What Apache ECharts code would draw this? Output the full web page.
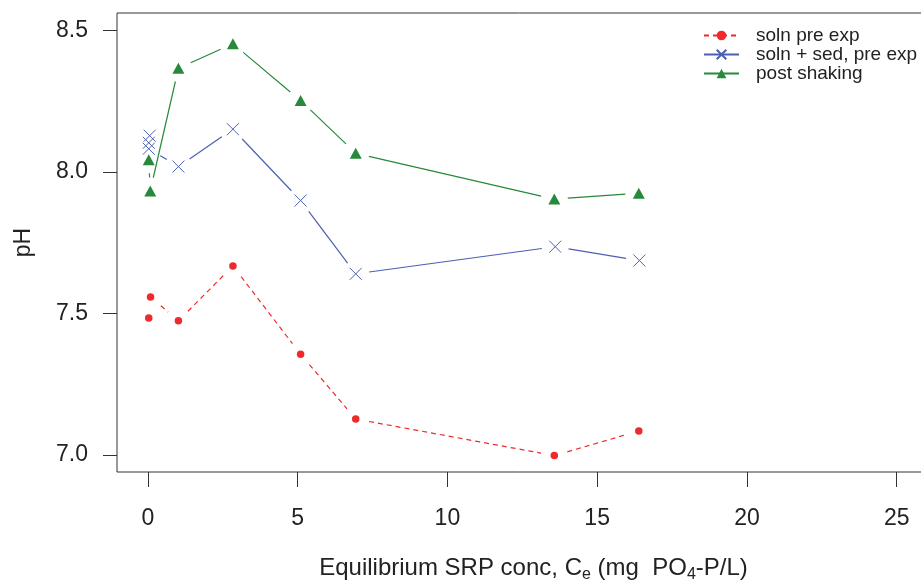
<!DOCTYPE html>
<html>
<head>
<meta charset="utf-8">
<script src="https://cdn.jsdelivr.net/npm/echarts@6/dist/echarts.min.js"></script>
<style>
  html, body { margin: 0; padding: 0; background: #fff; }
  #chart { width: 921px; height: 581px; }
</style>
</head>
<body>
<div id="chart"></div>
<script>
// values
var xPre = [0.03, 0.09, 1.02, 2.84, 5.10, 6.94, 13.57, 16.39];
var phPre = [7.484, 7.558, 7.474, 7.668, 7.356, 7.127, 6.998, 7.085];

var xSed = [0.06, 0.03, 0.03, 1.02, 2.84, 5.10, 6.94, 13.60, 16.41];
var phSed = [8.128, 8.103, 8.082, 8.019, 8.151, 7.899, 7.640, 7.736, 7.687];

var xShake = [0.03, 0.08, 1.02, 2.84, 5.10, 6.94, 13.57, 16.39];
var phShake = [8.043, 7.933, 8.366, 8.453, 8.252, 8.066, 7.904, 7.925];

var xTicks = [0, 5, 10, 15, 20, 25];
var yTicks = [7.0, 7.5, 8.0, 8.5];

var RED = '#ee2a2a', BLUE = '#4c5fb2', GREEN = '#27893b';
var FONT = 'Liberation Sans, Arial, sans-serif';
var GAP = 13.5; // R type="b" leaves a gap round each point

function pts(xs, ys) {
    var out = [];
    for (var i = 0; i < xs.length; i++) out.push([xs[i], ys[i]]);
    return out;
}
function pairs(xs, ys) {
    var out = [];
    for (var i = 0; i < xs.length - 1; i++) out.push([xs[i], ys[i], xs[i + 1], ys[i + 1]]);
    return out;
}
// draw each segment shortened at both ends
function gapLine(color, dash) {
    return function (params, api) {
        var p1 = api.coord([api.value(0), api.value(1)]);
        var p2 = api.coord([api.value(2), api.value(3)]);
        var dx = p2[0] - p1[0], dy = p2[1] - p1[1];
        var len = Math.sqrt(dx * dx + dy * dy);
        if (len <= 2 * GAP) return;
        var ux = dx / len, uy = dy / len;
        return {
            type: 'line',
            shape: { x1: p1[0] + ux * GAP, y1: p1[1] + uy * GAP, x2: p2[0] - ux * GAP, y2: p2[1] - uy * GAP },
            style: { stroke: color, lineWidth: 1.2, lineDash: dash }
        };
    };
}

var crossPath = 'path://M0,0L12,12M12,0L0,12';

var chart = echarts.init(document.getElementById('chart'));
var option = {
    animation: false,
    textStyle: { fontFamily: FONT },
    grid: {
        left: 117, top: 13, right: -29, bottom: 109,
        outerBoundsMode: 'none',
        show: true, borderColor: '#333', borderWidth: 1, backgroundColor: 'transparent'
    },
    legend: {
        orient: 'vertical',
        left: 703, top: 26, padding: 0,
        itemWidth: 35, itemHeight: 12, itemGap: 0,
        textStyle: { fontSize: 19, color: '#222', lineHeight: 17.5, padding: [0, 0, 0, 12], fontFamily: FONT },
        data: ['soln pre exp', 'soln + sed, pre exp', 'post shaking']
    },
    xAxis: {
        type: 'value', min: -1.03, max: 26.78,
        splitLine: { show: false },
        axisLine: { show: false, onZero: false },
        axisTick: { show: true, length: 15, customValues: xTicks, lineStyle: { color: '#333', width: 1 } },
        axisLabel: { customValues: xTicks, fontSize: 23, color: '#222', margin: 35 },
        name: 'Equilibrium SRP conc, C{sub|e} (mg  PO{sub|4}-P/L)',
        nameLocation: 'middle', nameGap: 83,
        nameTextStyle: {
            fontSize: 24, color: '#222', lineHeight: 27,
            rich: { sub: { fontSize: 16, verticalAlign: 'bottom', lineHeight: 27, padding: [0, 0, -1, 0] } }
        }
    },
    yAxis: {
        type: 'value', min: 6.94, max: 8.5615,
        splitLine: { show: false },
        axisLine: { show: false, onZero: false },
        axisTick: { show: true, length: 14, customValues: yTicks, lineStyle: { color: '#333', width: 1 } },
        axisLabel: {
            customValues: yTicks, fontSize: 23, color: '#222', margin: 29,
            formatter: function (v) { return v.toFixed(1); }
        },
        name: 'pH', nameLocation: 'middle', nameGap: 82,
        nameTextStyle: { fontSize: 23, color: '#222' }
    },
    series: [
        // legend carriers
        { type: 'line', name: 'soln pre exp', data: [], symbol: 'circle', itemStyle: { color: RED },
          lineStyle: { color: RED, width: 1.2, type: [5, 4] } },
        { type: 'line', name: 'soln + sed, pre exp', data: [], symbol: crossPath,
          itemStyle: { color: BLUE, borderColor: BLUE, borderWidth: 1 }, lineStyle: { color: BLUE, width: 1.2 } },
        { type: 'line', name: 'post shaking', data: [], symbol: 'triangle', itemStyle: { color: GREEN },
          lineStyle: { color: GREEN, width: 1.2 } },

        // connecting lines with gaps
        { type: 'custom', name: 'soln pre exp', silent: true, renderItem: gapLine(RED, [5, 4]),
          encode: { x: [0, 2], y: [1, 3] }, data: pairs(xPre, phPre) },
        { type: 'custom', name: 'soln + sed, pre exp', silent: true, renderItem: gapLine(BLUE, null),
          encode: { x: [0, 2], y: [1, 3] }, data: pairs(xSed, phSed) },
        { type: 'custom', name: 'post shaking', silent: true, renderItem: gapLine(GREEN, null),
          encode: { x: [0, 2], y: [1, 3] }, data: pairs(xShake, phShake) },

        // point markers
        { type: 'scatter', name: 'soln pre exp', symbol: 'circle', symbolSize: 7.5,
          itemStyle: { color: RED, opacity: 1 }, data: pts(xPre, phPre) },
        { type: 'scatter', name: 'soln + sed, pre exp', symbol: crossPath, symbolSize: 12,
          itemStyle: { color: BLUE, borderColor: BLUE, borderWidth: 1, opacity: 1 }, data: pts(xSed, phSed) },
        { type: 'scatter', name: 'post shaking', symbol: 'triangle', symbolSize: [12, 11],
          itemStyle: { color: GREEN, opacity: 1 }, data: pts(xShake, phShake) }
    ]
};
chart.setOption(option);
</script>
</body>
</html>
